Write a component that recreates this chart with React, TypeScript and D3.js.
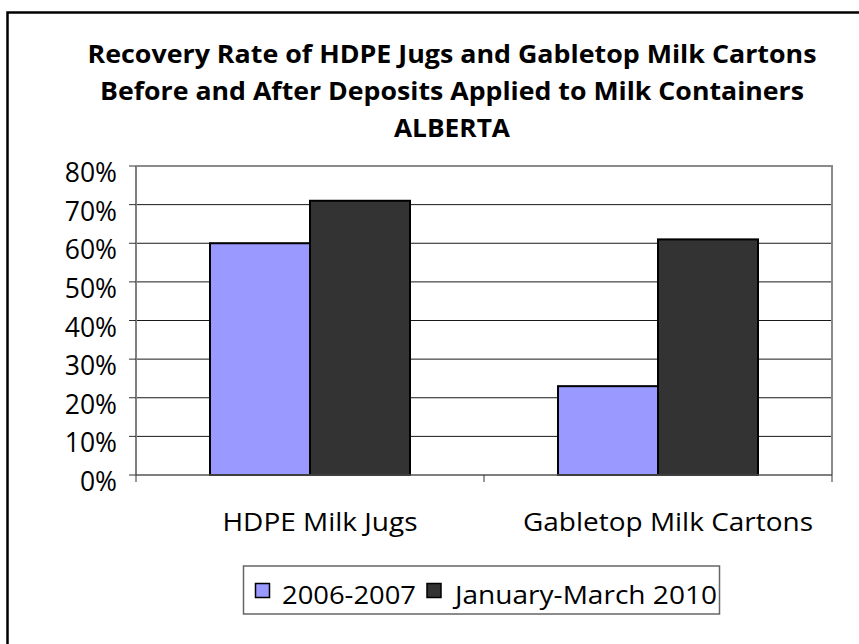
import * as d3 from "d3";

const categories = ["HDPE Milk Jugs", "Gabletop Milk Cartons"];
const seriesNames = ["2006-2007", "January-March 2010"];
const values2006 = [60, 23];
const values2010 = [71, 61];
const yTicks = [0, 10, 20, 30, 40, 50, 60, 70, 80];
const titleLines = [
  "Recovery Rate of HDPE Jugs and Gabletop Milk Cartons",
  "Before and After Deposits Applied to Milk Containers",
  "ALBERTA",
];
const seriesColors = ["#9999FF", "#333333"];

// measured text widths in the reference (Calibri-ish), used to fit the fallback font
const titleWidths = [729, 704, 116];
const categoryWidths = [195, 290];
const legendWidths = [134, 262];

const W = 859;
const H = 644;
const plot = { left: 136, right: 832, top: 166, bottom: 475 };
const FONT = "'Open Sans', Lato, sans-serif";

export default function App() {
  const x0 = d3.scaleBand<string>().domain(categories).range([plot.left, plot.right]).padding(0);
  const x1 = d3
    .scaleBand<string>()
    .domain(seriesNames)
    .range([0, x0.bandwidth()])
    .paddingInner(0)
    .paddingOuter(0.74);
  const y = d3.scaleLinear().domain([0, 80]).range([plot.bottom, plot.top]);

  const seriesValues = [values2006, values2010];
  const bars = categories.flatMap((c, ci) =>
    seriesNames.map((s, si) => ({ c, s, v: seriesValues[si][ci], color: seriesColors[si] }))
  );

  const catTicks = [plot.left, ...categories.map((c) => (x0(c) ?? 0) + x0.bandwidth())];

  return (
    <svg
      width={W}
      height={H}
      viewBox={`0 0 ${W} ${H}`}
      style={{ position: "absolute", left: 0, top: 0, background: "#fff" }}
      fontFamily={FONT}
    >
      {/* outer frame, runs off the right and bottom edges */}
      <rect x={7.5} y={12.5} width={W + 20} height={H + 20} fill="#fff" stroke="#000" strokeWidth={2.5} />

      {/* title */}
      {titleLines.map((t, i) => (
        <text
          key={t}
          x={452}
          y={63 + i * 36.8}
          textAnchor="middle"
          fontWeight="bold"
          fontSize={25}
          fill="#000"
          textLength={titleWidths[i]}
          lengthAdjust="spacingAndGlyphs"
        >
          {t}
        </text>
      ))}

      {/* gridlines */}
      {yTicks.slice(1, -1).map((t) => (
        <line key={t} x1={plot.left} x2={plot.right} y1={y(t)} y2={y(t)} stroke="#1a1a1a" strokeWidth={1} />
      ))}

      {/* plot frame top/right */}
      <path
        d={`M${plot.left},${plot.top}H${plot.right}V${plot.bottom}`}
        fill="none"
        stroke="#8a8a8a"
        strokeWidth={2}
      />

      {/* bars */}
      {bars.map((b) => (
        <rect
          key={b.c + b.s}
          x={(x0(b.c) ?? 0) + (x1(b.s) ?? 0)}
          y={y(b.v)}
          width={x1.bandwidth()}
          height={y(0) - y(b.v)}
          fill={b.color}
          stroke="#000"
          strokeWidth={2}
        />
      ))}

      {/* y axis */}
      <line x1={plot.left} x2={plot.left} y1={plot.top} y2={plot.bottom} stroke="#808080" strokeWidth={2} />
      {yTicks.map((t) => (
        <g key={t}>
          <line x1={plot.left - 7} x2={plot.left} y1={y(t)} y2={y(t)} stroke="#333" strokeWidth={1} />
          <text x={117} y={y(t) + 16} textAnchor="end" fontSize={26.5} fill="#000">
            {t}%
          </text>
        </g>
      ))}

      {/* x axis */}
      <line x1={plot.left} x2={plot.right} y1={plot.bottom} y2={plot.bottom} stroke="#555" strokeWidth={1.5} />
      {catTicks.map((tx, i) => (
        <line key={i} x1={tx} x2={tx} y1={plot.bottom} y2={plot.bottom + 7} stroke="#333" strokeWidth={1} />
      ))}
      {categories.map((c, i) => (
        <text
          key={c}
          x={(x0(c) ?? 0) + x0.bandwidth() / 2 + 10}
          y={531}
          textAnchor="middle"
          fontSize={25}
          fill="#000"
          textLength={categoryWidths[i]}
          lengthAdjust="spacingAndGlyphs"
        >
          {c}
        </text>
      ))}

      {/* legend */}
      <rect x={243.5} y={566} width={476} height={48} fill="#fff" stroke="#666" strokeWidth={1.5} />
      <rect x={255.5} y={583.5} width={14} height={14} fill={seriesColors[0]} stroke="#000" strokeWidth={1.5} />
      <text
        x={282}
        y={603.5}
        fontSize={25}
        fill="#000"
        textLength={legendWidths[0]}
        lengthAdjust="spacingAndGlyphs"
      >
        {seriesNames[0]}
      </text>
      <rect x={427} y={583.5} width={14} height={14} fill={seriesColors[1]} stroke="#000" strokeWidth={1.5} />
      <text
        x={455}
        y={603.5}
        fontSize={25}
        fill="#000"
        textLength={legendWidths[1]}
        lengthAdjust="spacingAndGlyphs"
      >
        {seriesNames[1]}
      </text>
    </svg>
  );
}
